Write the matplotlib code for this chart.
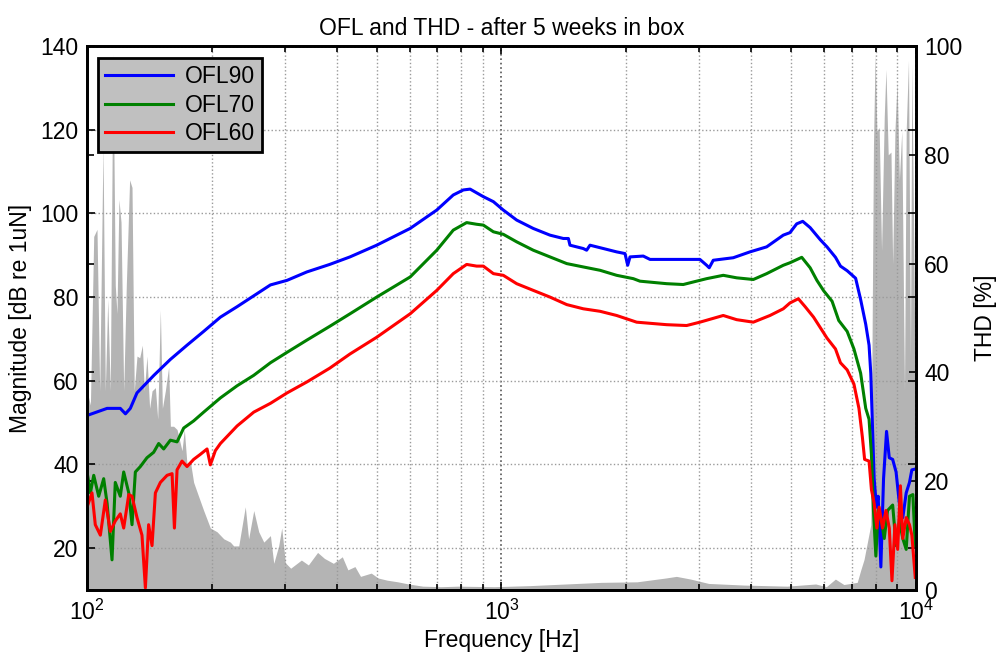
import matplotlib
matplotlib.use("Agg")
import matplotlib.pyplot as plt
from matplotlib.ticker import LogLocator, NullFormatter, LogFormatterMathtext

plt.rcParams['font.family'] = ['Liberation Sans', 'DejaVu Sans']
plt.rcParams['mathtext.fontset'] = 'custom'
plt.rcParams['mathtext.rm'] = 'Liberation Sans'

# OFL90 magnitude [dB re 1uN]
f90 = [100, 111.8, 120.3, 123.8, 127.2, 132, 145, 158.9, 174.3, 191.2,
       209.8, 230.2, 252.5, 277, 303.9, 339, 385,
       431, 500, 602, 698, 765, 809, 840, 904, 956, 1010,
       1088, 1193, 1309, 1410, 1450, 1463, 1575, 1605, 1635, 1761,
       1896, 1986, 2016, 2042, 2198, 2282, 2503, 2745, 3011, 3126,
       3171, 3243, 3624, 3977, 4363, 4785,
       4966, 5155, 5331, 5555, 5877, 6100, 6395, 6574, 6823, 7152,
       7354, 7565, 7706, 7780, 7853, 7928, 8029, 8106, 8228, 8352,
       8492, 8622, 8786, 8954, 9120, 9295, 9472, 9646, 9774, 9961]
m90 = [51.7, 53.4, 53.4, 52.1, 53.4, 57.1, 61.3, 65.1, 68.5, 71.8,
       75.2, 77.7, 80.3, 82.9, 84.0, 86.0, 87.8,
       89.6, 92.4, 96.4, 100.8, 104.4, 105.6, 105.8, 104.0, 102.8, 100.8,
       98.4, 96.4, 94.8, 94.0, 94.0, 92.4, 91.6, 91.2, 92.4, 91.6,
       90.8, 90.4, 87.6, 89.6, 89.8, 89.0, 89.0, 89.0, 89.0, 87.6,
       87.0, 88.8, 89.4, 90.8, 92.0, 94.8,
       95.4, 97.5, 98.1, 96.6, 93.7, 92.0, 89.5, 87.4, 86.3, 84.5,
       79.4, 73.5, 68.5, 61.8, 49.2, 36.6, 29.8, 32.4, 15.5, 36.6,
       47.9, 41.6, 41.2, 38.2, 30.7, 27.3, 33.2, 35.7, 38.7, 38.9]

# OFL70
f70 = [100, 101.9, 103.8, 106.7, 109.7, 111.8, 114.9, 117, 120.3, 122.6,
       126.1, 128.4, 130.8, 134.5, 139.5, 144.8, 148.9, 153.1, 158.9, 164.9,
       171.1, 180.8, 191.2, 209.8, 230.2, 252.5, 277, 303.9, 339, 385,
       431, 500, 602, 698, 765, 824, 871, 904, 956, 1010,
       1088, 1193, 1309, 1437, 1575, 1729, 1896, 2080, 2158, 2503,
       2745, 2901, 3126, 3428, 3693, 4051, 4363, 4785,
       4966, 5302, 5555, 5767, 5989, 6275, 6512, 6823, 7085, 7354,
       7565, 7706, 7808, 7897, 8003, 8106, 8228, 8385, 8541, 8786,
       8954, 9120, 9295, 9472, 9646, 9829, 9961]
m70 = [38.2, 33.2, 37.4, 32.4, 36.6, 30.7, 17.2, 35.7, 32.4, 38.2,
       33.2, 25.6, 38.2, 39.5, 41.6, 42.9, 45.0, 43.7, 45.8, 45.4,
       48.7, 50.4, 52.5, 55.9, 58.8, 61.3, 64.3, 66.8, 69.7, 73.0,
       76.0, 80.0, 84.8, 91.2, 96.0, 97.8, 97.4, 97.2, 95.6, 95.0,
       93.2, 91.2, 89.6, 88.0, 87.2, 86.4, 85.2, 84.4, 83.8, 83.2,
       83.0, 83.6, 84.4, 85.2, 84.6, 84.2, 85.6, 87.6,
       88.2, 89.5, 87.0, 84.0, 81.5, 79.0, 74.4, 71.8, 67.6, 61.8,
       53.4, 50.8, 42.4, 29.0, 18.1, 29.0, 27.3, 22.3, 29.0, 30.3,
       20.6, 26.5, 22.3, 19.7, 32.4, 32.8, 20.6]

# OFL60
f60 = [100, 102.8, 104.7, 107.7, 110.7, 113.8, 117, 120.3, 122.6, 126.1,
       128.4, 132, 135.7, 138.3, 140.8, 143.5, 146.2, 150.3, 156.0, 160.4,
       162.5, 164.9, 169.5, 174.3, 180.8, 187.6, 194.8, 198.4, 204, 209.8,
       230.2, 252.5, 277, 303.9, 339, 385,
       431, 500, 602, 698, 765, 824, 871, 904, 956, 1010,
       1088, 1193, 1309, 1437, 1575, 1729, 1896, 2119, 2503, 2797,
       3011, 3428, 3693, 4051, 4444, 4785,
       4966, 5203, 5403, 5662, 5877, 6100, 6395, 6574, 6823, 7085,
       7285, 7424, 7518, 7706, 7808, 7928, 8048, 8151, 8306, 8464,
       8622, 8752, 8898, 9034, 9172, 9295, 9472, 9646, 9774, 9961]
m60 = [29.8, 33.2, 25.6, 23.1, 31.5, 24.0, 26.5, 28.2, 24.8, 32.8,
       32.4, 27.3, 23.1, 10.5, 25.6, 20.6, 33.2, 35.7, 37.4, 37.8,
       24.8, 38.7, 40.8, 39.5, 41.2, 42.4, 43.7, 39.9, 43.3, 45.0,
       49.2, 52.5, 54.6, 57.1, 59.7, 63.0,
       66.4, 70.4, 76.0, 81.6, 85.6, 87.8, 87.4, 87.4, 85.6, 85.2,
       83.2, 81.6, 80.0, 78.2, 77.2, 76.6, 75.6, 74.0, 73.4, 73.2,
       74.0, 75.6, 74.6, 74.0, 75.6, 77.2,
       78.6, 79.6, 77.7, 75.2, 72.7, 70.2, 67.6, 64.3, 62.6, 59.2,
       53.4, 46.6, 41.2, 40.8, 34.0, 30.7, 24.8, 29.8, 24.8, 29.0,
       24.8, 12.2, 25.6, 19.7, 34.9, 22.3, 27.3, 25.6, 23.1, 13.0]

# THD [%]
f_thd = [100, 101.9, 103.8, 105.7, 107.3, 109.3, 110.7, 112.2, 113.8, 115.5,
         117, 118.1, 119.4, 120.8, 122.6, 124.4, 126.7, 128.4, 130, 132,
         134, 136, 137.5, 139.5, 141.6, 143.5, 146.2, 148.1, 150.3, 152,
         154.5, 157.4, 158.9, 161.8, 164.9, 169.5, 171.7, 174.3, 177.5, 180.8,
         185.9, 191.2, 198.4, 205.9, 213.8, 221.7, 225.9, 232.3, 240.9, 245.4,
         252.5, 259.6, 267, 277, 282.2, 290, 295,
         301, 310, 329, 342, 360, 374, 393, 413, 426, 443,
         457, 485, 504, 530, 562, 597, 646, 713, 788, 961,
         1172, 1429, 1742, 2124, 2490, 2642, 2861, 3160, 3853, 4887,
         5730, 6078, 6391, 6700, 7216, 7354, 7494, 7663, 7780, 7853,
         7897, 7972, 8048, 8151, 8260, 8385, 8464, 8572, 8704, 8786,
         8898, 9003, 9120, 9242, 9383, 9472, 9594, 9699, 9774, 9884, 9961]
thd = [36.6, 34.0, 65.0, 66.3, 36.6, 81.8, 36.6, 53.4, 36.6, 98.6,
       56.0, 50.8, 71.8, 67.6, 36.6, 56.0, 75.4, 74.0, 36.6, 43.0,
       42.7, 45.0, 36.6, 43.0, 33.4, 36.6, 37.2, 31.4, 51.5, 33.4,
       36.6, 41.0, 30.1, 30.1, 29.5, 25.6, 29.5, 23.0, 23.7, 19.8,
       17.2, 14.6, 11.4, 10.7, 9.4, 8.8, 8.1, 8.1, 15.3, 9.4,
       14.6, 10.7, 8.8, 10.0, 4.9, 8.1, 11.4,
       5.0, 4.0, 5.5, 4.6, 6.9, 5.8, 4.9, 6.1, 3.7, 4.3,
       2.5, 3.1, 2.2, 1.8, 1.5, 1.1, 0.7, 0.6, 0.7, 0.6,
       0.8, 1.1, 1.4, 1.5, 2.2, 2.5, 2.0, 1.2, 0.9, 0.7,
       1.1, 0.6, 2.0, 1.0, 1.4, 3.6, 5.6, 9.4, 12.0, 56.0,
       81.8, 98.6, 84.4, 85.0, 62.4, 87.0, 95.7, 80.0, 80.5, 59.9,
       84.4, 93.5, 75.4, 84.4, 36.6, 84.4, 97.4, 43.0, 96.7, 62.4, 36.6]

fig = plt.figure(figsize=(10.06, 6.62), dpi=100)
ax = fig.add_axes([0.0865, 0.1088, 0.824, 0.8217])
ax2 = ax.twinx()

# THD area sits on the right-hand axis, behind the magnitude curves
ax2.fill_between(f_thd, 0, thd, color='#b4b4b4', linewidth=0)
ax2.set_ylim(0, 100)
ax2.set_yticks([0, 20, 40, 60, 80, 100])
ax2.set_ylabel('THD [%]', fontsize=16.5, labelpad=8)
ax2.tick_params(axis='y', direction='in', left=True, length=5, width=1.2,
                labelsize=16.5, pad=6)
ax.set_zorder(ax2.get_zorder() + 1)
ax.patch.set_visible(False)

ax.plot(f90, m90, color='#0000ff', lw=2.2, label='OFL90')
ax.plot(f70, m70, color='#008000', lw=2.2, label='OFL70')
ax.plot(f60, m60, color='#ff0000', lw=2.2, label='OFL60')

ax.set_xscale('log')
ax.set_xlim(100, 10000)
ax.set_ylim(10, 140)
ax.set_yticks([20, 40, 60, 80, 100, 120, 140])
ax.xaxis.set_major_locator(LogLocator(base=10))
ax.xaxis.set_major_formatter(LogFormatterMathtext())
ax.xaxis.set_minor_locator(LogLocator(base=10, subs=range(2, 10)))
ax.xaxis.set_minor_formatter(NullFormatter())

ax.grid(True, which='major', axis='y', linestyle=':', color='#9a9a9a', lw=1)
ax.grid(True, which='major', axis='x', linestyle=':', color='#555555', lw=1.2)
ax.grid(True, which='minor', axis='x', linestyle=':', color='#9a9a9a', lw=1)

ax.tick_params(which='both', direction='in', top=True, right=True,
               labelsize=16.5, width=1.2)
ax.tick_params(which='major', length=6)
ax.tick_params(which='minor', length=4)
ax.tick_params(axis='x', pad=7)
ax.tick_params(axis='y', pad=6)

for a in (ax, ax2):
    for s in a.spines.values():
        s.set_linewidth(2)
        s.set_color('black')

ax.set_xlabel('Frequency [Hz]', fontsize=16.5, labelpad=3)
ax.set_ylabel('Magnitude [dB re 1uN]', fontsize=16.5, labelpad=6)
ax.set_title('OFL and THD - after 5 weeks in box', fontsize=16.5, pad=8)

leg = ax.legend(loc='upper left', bbox_to_anchor=(0.013, 0.978),
                borderaxespad=0, fontsize=16.5, fancybox=False, framealpha=1,
                facecolor='#c0c0c0', edgecolor='black', handlelength=3.0,
                handletextpad=0.5, labelspacing=0.25, borderpad=0.3)
leg.get_frame().set_linewidth(2)

fig.savefig('out.png', dpi=100)
